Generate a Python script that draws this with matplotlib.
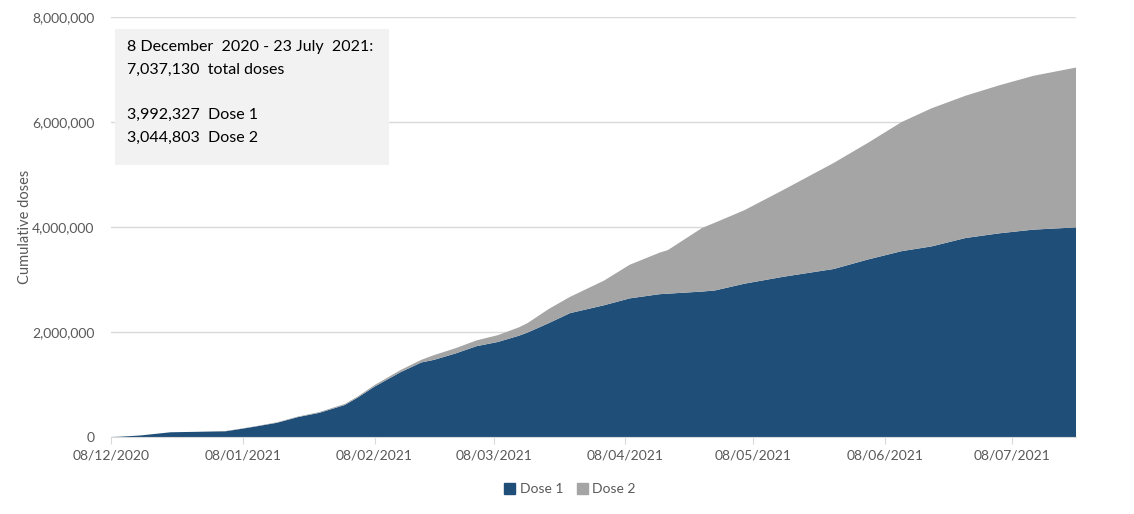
import matplotlib
matplotlib.use("Agg")
import matplotlib.pyplot as plt
import matplotlib.dates as mdates
from matplotlib.patches import Patch
from matplotlib.ticker import FuncFormatter
import numpy as np
import pandas as pd

# values in millions
dates = ["2020-12-08", "2020-12-10", "2020-12-15", "2020-12-22", "2020-12-29",
         "2021-01-04", "2021-01-08", "2021-01-11", "2021-01-16", "2021-01-21",
         "2021-01-26", "2021-02-01", "2021-02-04", "2021-02-08", "2021-02-14",
         "2021-02-19", "2021-02-22", "2021-02-27", "2021-03-04", "2021-03-09",
         "2021-03-14", "2021-03-16", "2021-03-21", "2021-03-26", "2021-04-03",
         "2021-04-09", "2021-04-16", "2021-04-18", "2021-04-26", "2021-04-29",
         "2021-05-06", "2021-05-15", "2021-05-27", "2021-06-04", "2021-06-12",
         "2021-06-19", "2021-06-27", "2021-07-05", "2021-07-13", "2021-07-23"]
dose1 = [0, 0.005, 0.03, 0.09, 0.10,
         0.11, 0.16, 0.20, 0.27, 0.38,
         0.46, 0.61, 0.75, 0.96, 1.23,
         1.42, 1.47, 1.59, 1.73, 1.81,
         1.93, 1.99, 2.17, 2.36, 2.51,
         2.64, 2.72, 2.73, 2.77, 2.79,
         2.92, 3.05, 3.20, 3.38, 3.54,
         3.63, 3.79, 3.88, 3.95, 3.992327]
total = [0, 0.005, 0.03, 0.09, 0.10,
         0.115, 0.165, 0.205, 0.28, 0.39,
         0.475, 0.63, 0.77, 0.99, 1.27,
         1.47, 1.56, 1.69, 1.84, 1.94,
         2.09, 2.17, 2.44, 2.67, 2.98,
         3.28, 3.51, 3.56, 3.98, 4.08,
         4.32, 4.70, 5.22, 5.60, 6.00,
         6.26, 6.50, 6.70, 6.88, 7.03713]
tick_dates = ["2020-12-08", "2021-01-08", "2021-02-08", "2021-03-08",
              "2021-04-08", "2021-05-08", "2021-06-08", "2021-07-08"]

x = pd.to_datetime(dates)
d1 = np.array(dose1) * 1e6
d2 = np.array(total) * 1e6 - d1

plt.rcParams['font.family'] = ['Lato', 'DejaVu Sans']
txt_col = '#595959'
grid_col = '#D9D9D9'

fig = plt.figure(figsize=(11.34, 5.14), dpi=100)
ax = fig.add_axes([111/1134, 1 - 437/514, (1076 - 111)/1134, (437 - 17)/514])

ax.stackplot(x, d1, d2, colors=['#1F4E79', '#A5A5A5'], linewidth=0)

ax.set_xlim(x[0], x[-1])
ax.set_ylim(0, 8e6)
ax.set_yticks(np.arange(0, 8e6 + 1, 2e6))
ax.yaxis.set_major_formatter(FuncFormatter(lambda v, p: f"{int(v):,}"))
ax.set_xticks(pd.to_datetime(tick_dates))
ax.xaxis.set_major_formatter(mdates.DateFormatter('%d/%m/%Y'))

ax.grid(axis='y', color=grid_col, linewidth=1)
ax.set_axisbelow(True)
for s in ['top', 'right', 'left']:
    ax.spines[s].set_visible(False)
ax.spines['bottom'].set_color(grid_col)
ax.tick_params(axis='y', length=0, colors=txt_col, labelsize=10, pad=12)
ax.tick_params(axis='x', length=5, color=grid_col, colors=txt_col, labelsize=10, pad=4)
ax.set_ylabel('Cumulative doses', color=txt_col, fontsize=10.5, labelpad=0)

# summary box
box = plt.Rectangle((115/1134, 1 - 165/514), (389 - 115)/1134, (165 - 29)/514,
                    transform=fig.transFigure, facecolor='#F2F2F2', edgecolor='none', zorder=5)
fig.patches.append(box)
lines = ["8 December  2020 - 23 July  2021:", "7,037,130  total doses",
         "3,992,327  Dose 1", "3,044,803  Dose 2"]
ys = [47, 70, 115, 138]
for t, yy in zip(lines, ys):
    fig.text(127/1134, 1 - yy/514, t, fontsize=11.5, color='#000000', va='center', zorder=6)

handles = [Patch(color='#1F4E79', label='Dose 1'), Patch(color='#A5A5A5', label='Dose 2')]
fig.legend(handles=handles, loc='center', bbox_to_anchor=(570/1134, 1 - 489/514), ncol=2,
           frameon=False, fontsize=10, labelcolor=txt_col, handlelength=0.8, handleheight=0.8,
           handletextpad=0.3, columnspacing=1.0)

fig.savefig('out.png', dpi=100)
